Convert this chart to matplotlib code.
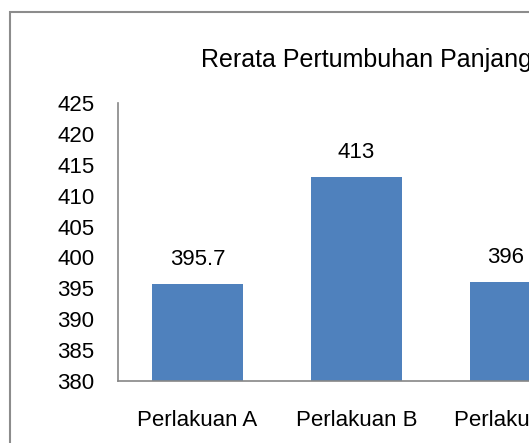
import matplotlib
matplotlib.use("Agg")
import matplotlib.pyplot as plt
from matplotlib.patches import Rectangle

# data
categories = ["Perlakuan A", "Perlakuan B", "Perlakuan C"]
values = [395.7, 413, 396]
value_labels = ["395.7", "413", "396"]
yticks = [380, 385, 390, 395, 400, 405, 410, 415, 420, 425]
title = "Rerata Pertumbuhan Panjang"

W, H = 529, 443
plt.rcParams["font.family"] = ["Liberation Sans", "DejaVu Sans"]
fig = plt.figure(figsize=(W / 100, H / 100), dpi=100)

# outer chart frame (cropped on the right and bottom)
fig.patches.append(Rectangle((10 / W, -0.1), 1.0, (H - 12) / H + 0.1,
                             transform=fig.transFigure, fill=False,
                             edgecolor="#8c8c8c", linewidth=1.5))

# plot area runs past the right edge of the image
left, right, top, bottom = 118, 595, 103, 381
ax = fig.add_axes([left / W, (H - bottom) / H, (right - left) / W, (bottom - top) / H])
x = range(len(categories))
ax.bar(x, [v - 380 for v in values], bottom=380, width=0.572, color="#4f81bd")
ax.set_xlim(-0.5, 2.5)
ax.set_ylim(380, 425)
ax.set_yticks(yticks)
ax.set_xticks(list(x))
ax.set_xticklabels(categories)
ax.tick_params(axis="both", length=0, labelsize=16, colors="black")
ax.tick_params(axis="y", pad=17)
ax.tick_params(axis="x", pad=21)
for s in ("top", "right"):
    ax.spines[s].set_visible(False)
for s in ("left", "bottom"):
    ax.spines[s].set_color("#868686")
    ax.spines[s].set_linewidth(1.2)

# last label sits a little left of its bar, as in the original
label_dx = [0, 0, -7]
for xi, v, lab, dx in zip(x, values, value_labels, label_dx):
    ax.annotate(lab, (xi, v), xytext=(dx, 10), textcoords="offset points",
                ha="center", va="bottom", fontsize=16)

fig.text(201 / W, (H - 60) / H, title, ha="left", va="center", fontsize=18)

fig.savefig("out.png", dpi=100)
